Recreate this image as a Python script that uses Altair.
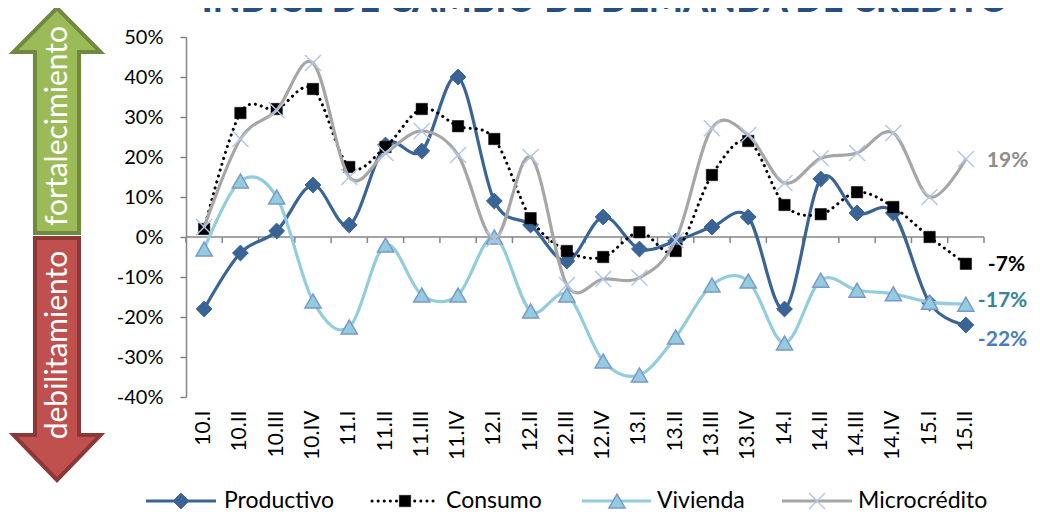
import altair as alt
import pandas as pd

categories = ["10.I", "10.II", "10.III", "10.IV", "11.I", "11.II", "11.III", "11.IV",
              "12.I", "12.II", "12.III", "12.IV", "13.I", "13.II", "13.III", "13.IV",
              "14.I", "14.II", "14.III", "14.IV", "15.I", "15.II"]
productivo = [-18, -4, 1.5, 13, 3, 23, 21.5, 40, 9, 3, -6, 5, -3, -1, 2.5, 5,
              -18, 14.5, 6, 6, -16.5, -22]
consumo = [2, 31, 32, 37, 17.5, 22.5, 32, 27.7, 24.5, 4.7, -3.5, -5, 1.2, -3.5, 15.5, 24,
           8, 5.7, 11.2, 7.5, 0, -6.7]
vivienda = [-3, 14, 10, -16, -22.5, -2, -14.5, -14.5, 0, -18.5, -14.5, -31, -34.5, -25, -12, -11,
            -26.5, -10.8, -13.3, -14.2, -16.3, -16.8]
microcredito = [2.5, 24.5, 31.7, 43.5, 15, 21, 26.5, 20.5, -0.5, 20, -12, -10.5, -10.2, -0.8, 27.2, 25.5,
                13.5, 19.7, 21, 26, 10, 19.5]
series_names = ["Productivo", "Consumo", "Vivienda", "Microcrédito"]
end_labels = ["-22%", "-7%", "-17%", "19%"]
y_ticks = [-40, -30, -20, -10, 0, 10, 20, 30, 40, 50]
title_text = "ÍNDICE DE CAMBIO DE DEMANDA DE CRÉDITO"

FONT = "Lato"
W, H = 798, 360
AX = "#868686"
X_PATH = "M-1,-1L1,1M1,-1L-1,1"

xscale = alt.Scale(type="band", domain=categories, paddingInner=0, paddingOuter=0)
xaxis = alt.Axis(title=None, domain=False, ticks=False, tickSize=0, labelAngle=270,
                 labelPadding=13, labelFontSize=21, labelFont=FONT, labelColor="#000000",
                 labelOverlap=False)
yscale = alt.Scale(domain=[-40, 50], nice=False)
yaxis = alt.Axis(title=None, values=y_ticks, labelExpr="datum.value + '%'",
                 grid=False, domainColor=AX, domainWidth=1.5, tickColor=AX, tickWidth=1.5,
                 tickSize=6, labelPadding=17, labelFontSize=20, labelFont=FONT,
                 labelColor="#000000", labelOverlap=False)
xenc = alt.X("cat:N", sort=categories, scale=xscale, axis=xaxis)
yenc = alt.Y("v:Q", scale=yscale, axis=yaxis)

layers = []

styles = {
    "Productivo": dict(values=productivo, line=dict(color="#3A6496", strokeWidth=3.2),
                       pt=dict(shape="diamond", size=250, fill="#3A6496", stroke="#3A6496", strokeWidth=1, filled=True)),
    "Consumo": dict(values=consumo, line=dict(color="#000000", strokeWidth=3, strokeDash=[0.1, 6], strokeCap="round"),
                    pt=dict(shape="square", size=130, fill="#000000", stroke="#000000", strokeWidth=0.5, filled=True)),
    "Vivienda": dict(values=vivienda, line=dict(color="#93CDDD", strokeWidth=3.2),
                     pt=dict(shape="triangle-up", size=260, fill="#93CDDD", stroke="#7B97CB", strokeWidth=1.5, filled=True)),
    "Microcrédito": dict(values=microcredito, line=dict(color="#A6A6A6", strokeWidth=3.2),
                         pt=dict(shape=X_PATH, size=256, stroke="#B4C6E7", strokeWidth=1.5, filled=False)),
}

# zero line and ticks between categories
one = pd.DataFrame({"k": [0]})
layers.append(alt.Chart(one).mark_rule(color=AX, strokeWidth=1.5).encode(
    x=alt.value(0), x2=alt.value(W), y=alt.Y(datum=0, scale=yscale, axis=yaxis)))
cat_df = pd.DataFrame({"cat": categories})
layers.append(alt.Chart(cat_df).mark_rule(color=AX, strokeWidth=1.5).encode(
    x=alt.X("cat:N", sort=categories, bandPosition=0, scale=xscale, axis=xaxis),
    y=alt.Y(datum=0, scale=yscale, axis=yaxis), y2=alt.Y2(datum=-1.5)))
layers.append(alt.Chart(one).mark_rule(color=AX, strokeWidth=1.5).encode(
    x=alt.value(W), y=alt.Y(datum=0, scale=yscale, axis=yaxis), y2=alt.Y2(datum=-1.5)))

for name in series_names:
    st = styles[name]
    df = pd.DataFrame({"cat": categories, "v": st["values"]})
    base = alt.Chart(df)
    layers.append(base.mark_line(interpolate="cardinal", **st["line"]).encode(x=xenc, y=yenc))
    layers.append(base.mark_point(opacity=1, **st["pt"]).encode(x=xenc, y=yenc))

# end labels
lab_spec = [
    ("-22%", productivo[-1], "#4A7EBB", 12, 15),
    ("-7%", consumo[-1], "#000000", 22, 1),
    ("-17%", vivienda[-1], "#31849B", 12, -3),
    ("19%", microcredito[-1], "#8C8C8C", 21, 2),
]
for txt, val, col, dx, dy in lab_spec:
    d = pd.DataFrame({"cat": [categories[-1]], "v": [val], "t": [txt]})
    layers.append(alt.Chart(d).mark_text(align="left", baseline="middle", dx=dx, dy=dy, fontSize=21,
                                         fontWeight="bold", font=FONT, color=col).encode(
        x=xenc, y=yenc, text="t:N"))

# left arrows (decoration)
up_path = "M0,-1L0.387,-0.609L0.196,-0.609L0.196,1L-0.196,1L-0.196,-0.609L-0.387,-0.609Z"
down_path = "M0,1L0.36,0.628L0.182,0.628L0.182,-1L-0.182,-1L-0.182,0.628L-0.36,0.628Z"
layers.append(alt.Chart(one).mark_point(shape=up_path, size=225 * 225, filled=True, fill="#9BBB59",
                                        stroke="#71893F", strokeWidth=4, opacity=1).encode(
    x=alt.value(57 - 186), y=alt.value(120.5 - 37)))
layers.append(alt.Chart(one).mark_point(shape=down_path, size=242 * 242, filled=True, fill="#C0504D",
                                        stroke="#8C3836", strokeWidth=4, opacity=1).encode(
    x=alt.value(57 - 186), y=alt.value(359 - 37)))
layers.append(alt.Chart(one).mark_text(text="fortalecimiento", angle=270, align="center", baseline="middle",
                                       fontSize=30, font=FONT, color="#FFFFFF").encode(
    x=alt.value(58 - 186), y=alt.value(126 - 37)))
layers.append(alt.Chart(one).mark_text(text="debilitamiento", angle=270, align="center", baseline="middle",
                                       fontSize=30, font=FONT, color="#FFFFFF").encode(
    x=alt.value(58 - 186), y=alt.value(345 - 37)))

# title (cut at the top edge as in the original)
layers.append(alt.Chart(one).mark_text(text=title_text, align="center", baseline="alphabetic",
                                       fontSize=36, fontWeight=900, font=FONT, color="#254E82").encode(
    x=alt.value(605 - 186), y=alt.value(12 - 37)))

# manual legend
LY = 501 - 37
leg = [
    ("Productivo", 146, 216, 181, 224),
    ("Consumo", 372, 436, 405, 446),
    ("Vivienda", 582, 651, 617, 657),
    ("Microcrédito", 782, 852, 817, 858),
]
for name, x0, x1, xm, xt in leg:
    st = styles[name]
    d = pd.DataFrame({"name": [name]})
    layers.append(alt.Chart(d).mark_rule(**st["line"]).encode(
        x=alt.value(x0 - 186), x2=alt.value(x1 - 186), y=alt.value(LY)))
    layers.append(alt.Chart(d).mark_point(opacity=1, **st["pt"]).encode(
        x=alt.value(xm - 186), y=alt.value(LY)))
    layers.append(alt.Chart(d).mark_text(align="left", baseline="middle", fontSize=23, font=FONT,
                                         color="#000000").encode(
        x=alt.value(xt - 186), y=alt.value(LY), text="name:N"))

chart = alt.layer(*layers).properties(
    width=W, height=H,
    autosize=alt.AutoSizeParams(type="none"),
    padding={"left": 178, "top": 29, "right": 48, "bottom": 116},
).configure(
    background="#FFFFFF",
    view=alt.ViewConfig(stroke="transparent", strokeWidth=0),
)

chart.save("out.html", embed_options={"renderer": "svg", "actions": False})
